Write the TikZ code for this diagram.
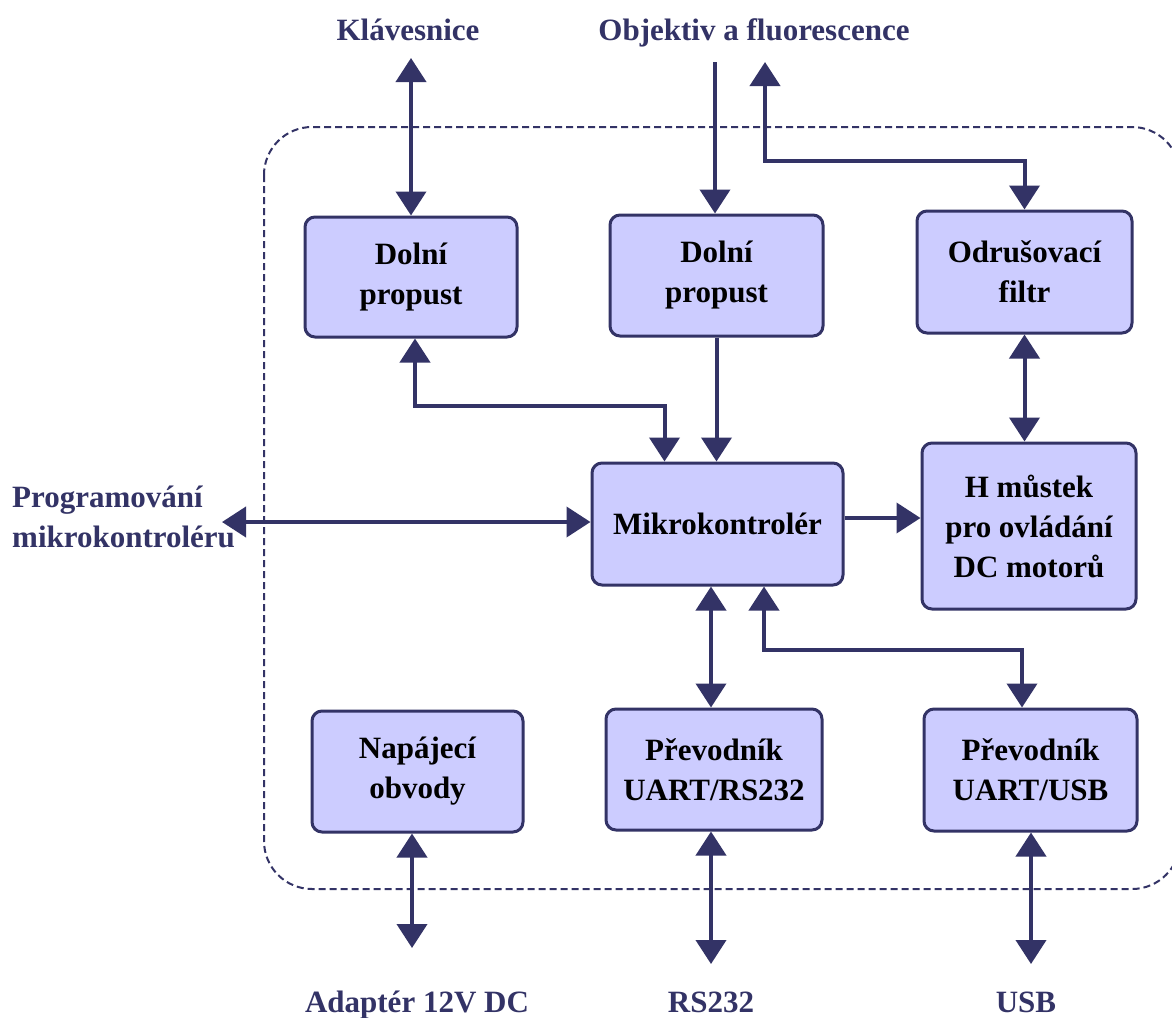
\documentclass[tikz,border=0pt]{standalone}
\usepackage{fontspec}
\setmainfont{Liberation Serif}
\usetikzlibrary{arrows.meta,calc}
\definecolor{navy}{HTML}{333366}
\definecolor{boxfill}{HTML}{CCCCFF}
\begin{document}
\begin{tikzpicture}[x=1pt,y=-1pt,
  blk/.style={draw=navy, fill=boxfill, line width=3pt, rounded corners=10pt, align=center,
    font=\fontsize{31}{40}\selectfont\bfseries, text=black, inner sep=0pt},
  lbl/.style={text=navy, font=\fontsize{31}{40}\selectfont\bfseries, inner sep=0pt},
  con/.style={draw=navy, line width=4pt, -{Triangle[width=30pt,length=24pt]}},
  dbl/.style={draw=navy, line width=4pt, {Triangle[width=30pt,length=24pt]}-{Triangle[width=30pt,length=24pt]}},
  frame/.style={draw=navy, line width=2pt, dash pattern=on 7pt off 4pt, rounded corners=48pt}]
\clip (0,0) rectangle (1172,1017);
\fill[white] (0,0) rectangle (1172,1017);
% dashed frame
\draw[frame] (264,127) rectangle (1180,889);
% boxes
\node[blk, minimum width=212pt, minimum height=120pt] (b1) at (411,277) {Dolní\\propust};
\node[blk, minimum width=213pt, minimum height=121pt] (b2) at (716.5,275.5) {Dolní\\propust};
\node[blk, minimum width=215pt, minimum height=122pt] (ff) at (1024.5,272) {Odrušovací\\filtr};
\node[blk, minimum width=251pt, minimum height=122pt] (mc) at (717.5,524) {Mikrokontrolér};
\node[blk, minimum width=214pt, minimum height=166pt] (hm) at (1029,526) {H můstek\\pro ovládání\\DC motorů};
\node[blk, minimum width=211pt, minimum height=121pt] (np) at (417.5,771.5) {Napájecí\\obvody};
\node[blk, minimum width=216pt, minimum height=121pt] (rs) at (714,769.5) {Převodník\\UART/RS232};
\node[blk, minimum width=213pt, minimum height=122pt] (us) at (1030.5,770) {Převodník\\UART/USB};
% labels
\node[lbl, anchor=base] (lkb) at (408,40) {Klávesnice};
\node[lbl, anchor=base] (lob) at (754,40) {Objektiv a fluorescence};
\node[lbl, anchor=base west] (lpg1) at (12,507) {Programování};
\node[lbl, anchor=base west] (lpg2) at (12,547) {mikrokontroléru};
\node[lbl, anchor=base] (lad) at (417,1012) {Adaptér 12V DC};
\node[lbl, anchor=base] (lrs) at (711,1012) {RS232};
\node[lbl, anchor=base] (lus) at (1026,1012) {USB};
% free ends
\coordinate (kb) at (411,58);
\coordinate (obIn) at (715,62);
\coordinate (obOut) at (765,62);
\coordinate (pg) at (222,522);
\coordinate (r1) at (0,518);
\coordinate (xr) at (711,0);
\coordinate (xu) at (764,0);
\coordinate (yu) at (0,650);
\coordinate (xu2) at (1022,0);
\coordinate (pa) at (412,948);
\coordinate (prs) at (711,964);
\coordinate (pus) at (1031,964);
% connectors
\draw[dbl] (kb) -- (kb |- b1.north);
\draw[con] (obIn) -- (obIn |- b2.north);
\draw[dbl] (obOut) -- ++(0,99) -| (ff.north);
\draw[dbl] ($(b1.south)+(4,0)$) -- ++(0,67) -| ($(mc.north)+(-53,0)$);
\draw[con] (b2.south) -- (b2.south |- mc.north);
\draw[dbl] (ff.south) -- (ff.south |- hm.north);
\draw[con] (mc.east |- r1) -- (hm.west |- r1);
\draw[dbl] (pg) -- (pg -| mc.west);
\draw[dbl] (xr |- mc.south) -- (xr |- rs.north);
\draw[dbl] (xu |- mc.south) -- (xu |- yu) -| (xu2 |- us.north);
\draw[dbl] (pa |- np.south) -- (pa);
\draw[dbl] (prs |- rs.south) -- (prs);
\draw[dbl] (pus |- us.south) -- (pus);
\end{tikzpicture}
\end{document}
